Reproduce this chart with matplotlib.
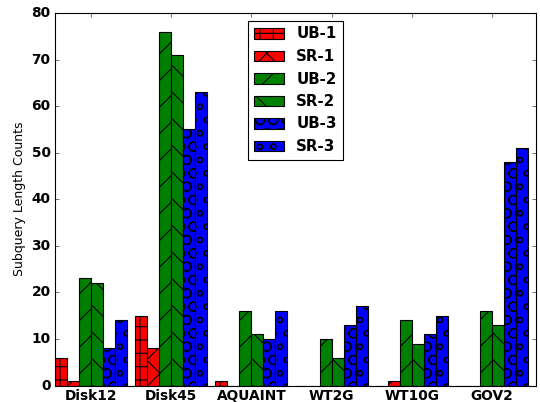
import matplotlib
matplotlib.use("Agg")
import matplotlib.pyplot as plt
import numpy as np

plt.style.use('classic')

categories = ["Disk12", "Disk45", "AQUAINT", "WT2G", "WT10G", "GOV2"]
series_names = ["UB-1", "SR-1", "UB-2", "SR-2", "UB-3", "SR-3"]
ub1 = [6, 15, 1, 0, 0, 0]
sr1 = [1, 8, 0, 0, 1, 0]
ub2 = [23, 76, 16, 10, 14, 16]
sr2 = [22, 71, 11, 6, 9, 13]
ub3 = [8, 55, 10, 13, 11, 48]
sr3 = [14, 63, 16, 17, 15, 51]
series = [ub1, sr1, ub2, sr2, ub3, sr3]
colors = ["red", "red", "green", "green", "blue", "blue"]
hatches = ["+", "x", "/", "\\", "O", "o"]

W, H, DPI = 540, 402, 80
s = 90 / DPI
fig = plt.figure(figsize=(W / DPI, H / DPI), dpi=DPI, facecolor="white")
ax = fig.add_axes([55 / W, 1 - 385.5 / H, 481 / W, (385.5 - 13) / H])

ind = np.arange(len(categories))
width = 0.15
for i, (vals, name) in enumerate(zip(series, series_names)):
    ax.bar(ind + i * width, vals, width, color=colors[i], hatch=hatches[i],
           edgecolor="black", label=name, align="edge")

ax.set_xlim(0, 6)
ax.set_ylim(0, 80)
ax.set_xticks(ind + 3 * width)
ax.set_xticklabels(categories, fontsize=11 * s, fontweight="bold")
ax.tick_params(axis="x", pad=3)
for t in ax.get_yticklabels():
    t.set_fontsize(11 * s)
    t.set_fontweight("bold")
ax.set_ylabel("Subquery Length Counts", fontsize=10 * s)
ax.legend(loc="upper center", prop={"size": 12 * s, "weight": "bold"})

fig.savefig("out.png", dpi=DPI, facecolor="white")
